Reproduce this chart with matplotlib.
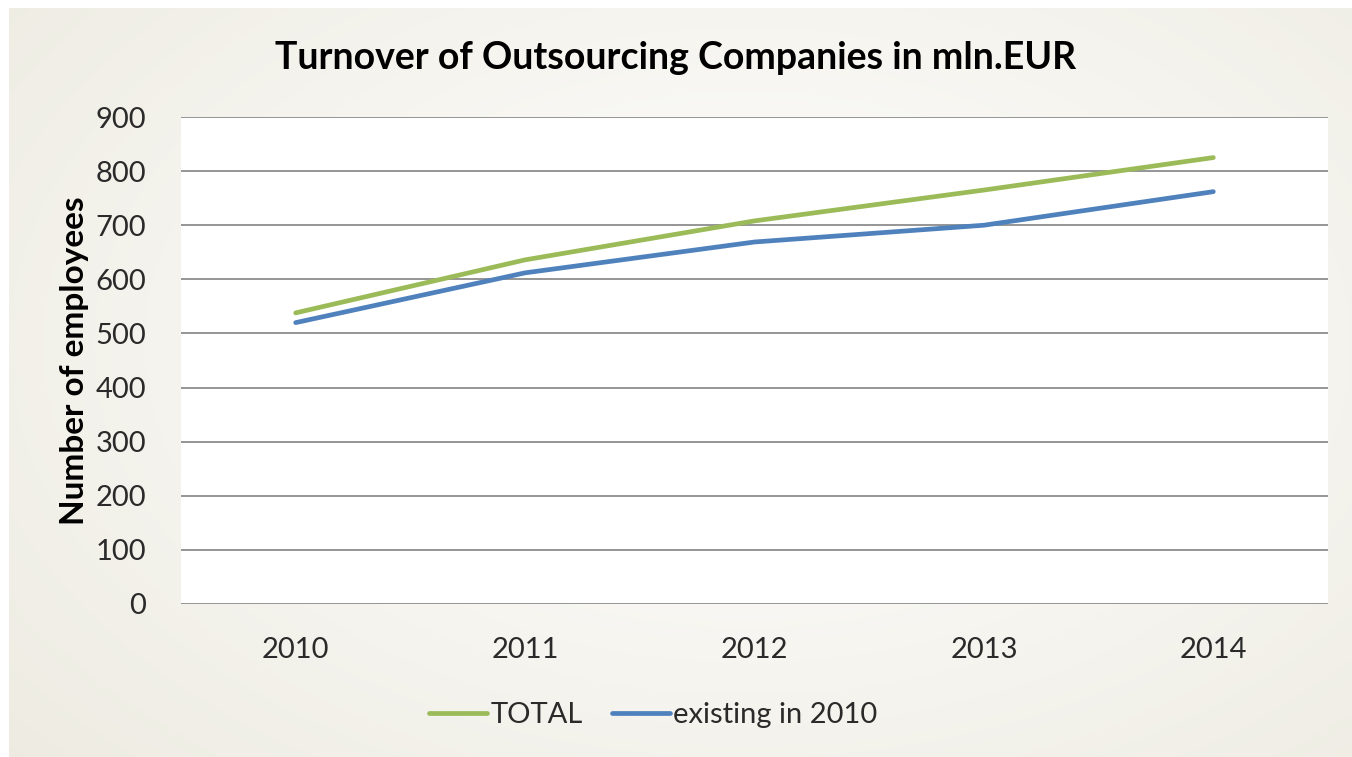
import matplotlib.pyplot as plt
import numpy as np

# data
years = ['2010', '2011', '2012', '2013', '2014']
total = [538, 636, 708, 765, 825]
existing_2010 = [520, 612, 669, 700, 762]
yticks = [0, 100, 200, 300, 400, 500, 600, 700, 800, 900]

W, H = 1352, 757
fig = plt.figure(figsize=(W / 100, H / 100), dpi=100)
fig.patch.set_facecolor('white')

# soft beige background with light centre
bg = fig.add_axes([9 / W, 0, 1 - 9 / W, 1 - 8 / H])
yy, xx = np.mgrid[0:1:300j, 0:1:500j]
r = np.sqrt(((xx - 0.55) / 0.75) ** 2 + ((yy - 0.45) / 0.85) ** 2)
r = np.clip(r, 0, 1)
c0 = np.array([1.0, 1.0, 1.0])
c1 = np.array([0xed, 0xeb, 0xe1]) / 255
img = c0[None, None, :] * (1 - r[..., None]) + c1[None, None, :] * r[..., None]
bg.imshow(img, aspect='auto', extent=[0, 1, 0, 1])
bg.axis('off')

ax = fig.add_axes([181 / W, 1 - 604 / H, (1328 - 181) / W, (604 - 117) / H])
ax.set_facecolor('white')

x = np.arange(len(years))
ax.plot(x, total, color='#9bbb59', lw=3.4, solid_capstyle='round', label='TOTAL', zorder=3)
ax.plot(x, existing_2010, color='#4f81bd', lw=3.4, solid_capstyle='round',
        label='existing in 2010', zorder=3)

ax.set_xlim(-0.5, len(years) - 0.5)
ax.set_ylim(0, 900)
ax.set_yticks(yticks)
ax.set_xticks(x)
ax.set_xticklabels(years)
ax.yaxis.grid(True, color='#8c8c8c', lw=1.3)
ax.set_axisbelow(True)
for s in ax.spines.values():
    s.set_visible(False)
ax.tick_params(length=0, labelsize=21, colors='#2a2a2a')
ax.tick_params(axis='y', pad=25)
ax.tick_params(axis='x', pad=24)
for lab in ax.get_xticklabels() + ax.get_yticklabels():
    lab.set_family('Lato')
    lab.set_fontweight('normal')

ax.set_ylabel('Number of employees', fontsize=24, fontweight='bold', family='Lato',
              labelpad=5)
fig.text(0.5, 0.924, 'Turnover of Outsourcing Companies in mln.EUR', ha='center',
         va='center', fontsize=27, fontweight='bold', family='Lato')

leg = fig.legend(loc='center', bbox_to_anchor=(0.483, 0.055), ncol=2, frameon=False,
                 prop={'family': 'Lato', 'weight': 'normal', 'size': 21},
                 labelcolor='#2a2a2a', handlelength=2.0, handletextpad=0.1,
                 columnspacing=1.0)

fig.savefig('out.png', dpi=100)
